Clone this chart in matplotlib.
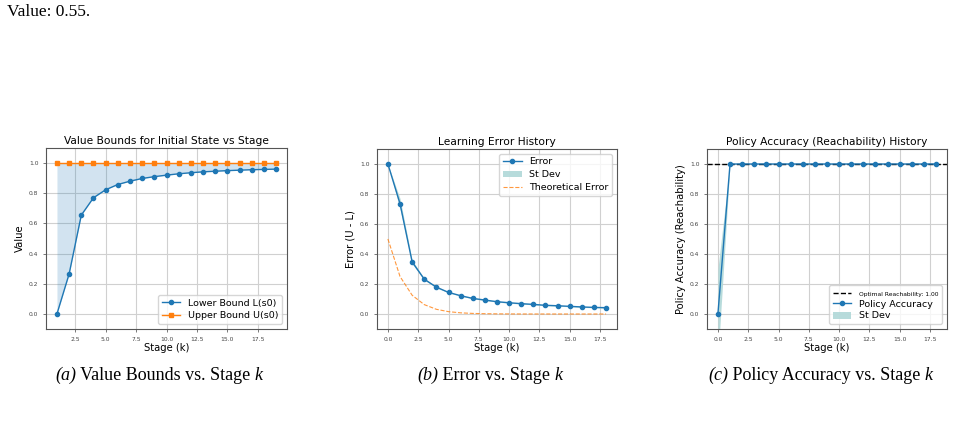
import matplotlib
matplotlib.use("Agg")
import matplotlib.pyplot as plt

# ---------------- data ----------------
stages_a = [1, 2, 3, 4, 5, 6, 7, 8, 9, 10, 11, 12, 13, 14, 15, 16, 17, 18, 19]
lower_bound = [0.0, 0.265, 0.655, 0.77, 0.823, 0.858, 0.88, 0.898, 0.91, 0.92,
               0.929, 0.936, 0.942, 0.946, 0.950, 0.953, 0.956, 0.958, 0.960]
upper_bound = [1.0] * 19

stages_b = [0, 1, 2, 3, 4, 5, 6, 7, 8, 9, 10, 11, 12, 13, 14, 15, 16, 17, 18]
error = [1.0, 0.735, 0.347, 0.232, 0.179, 0.144, 0.122, 0.104, 0.093, 0.082,
         0.075, 0.069, 0.064, 0.058, 0.055, 0.051, 0.047, 0.044, 0.042]
error_std = [0.0, 0.035, 0.012, 0.006, 0.004, 0.003, 0.003, 0.003, 0.003, 0.003,
             0.003, 0.003, 0.003, 0.003, 0.003, 0.003, 0.003, 0.003, 0.003]
theoretical_error = [0.5, 0.25, 0.125, 0.0625, 0.0313, 0.0156, 0.0078, 0.0039,
                     0.002, 0.001, 0.0005, 0.0002, 0.0001, 0.0001, 0.0, 0.0,
                     0.0, 0.0, 0.0]

stages_c = [0, 1, 2, 3, 4, 5, 6, 7, 8, 9, 10, 11, 12, 13, 14, 15, 16, 17, 18]
accuracy = [0.0] + [1.0] * 18
accuracy_std = [0.3] + [0.0] * 18
optimal_reach = 1.0

caption_tags = ["(a)", "(b)", "(c)"]
caption_texts = [" Value Bounds vs. Stage ", " Error vs. Stage ",
                 " Policy Accuracy vs. Stage "]

# ---------------- figure ----------------
fig = plt.figure(figsize=(9.8, 4.22), dpi=100)
W, H = 980, 422


def add_ax(x0, x1, y0, y1):
    return fig.add_axes([x0 / W, 1 - y1 / H, (x1 - x0) / W, (y1 - y0) / H])


ax1 = add_ax(46, 287, 148, 329)
ax2 = add_ax(377, 617, 149, 329)
ax3 = add_ax(707, 947, 149, 329)

title_fs = 7.7
label_fs = 7.2
tick_fs = 4.3
leg_fs = 6.8

for ax in (ax1, ax2, ax3):
    ax.grid(True, color='#d0d0d0', linewidth=0.8)
    ax.set_axisbelow(True)
    ax.tick_params(labelsize=tick_fs, length=2, width=0.5, colors='#444444')
    for s in ax.spines.values():
        s.set_color('#555555')
        s.set_linewidth(0.8)
    ax.set_ylim(-0.1, 1.1)
    ax.set_yticks([0.0, 0.2, 0.4, 0.6, 0.8, 1.0])

# Panel (a)
ax1.fill_between(stages_a, lower_bound, upper_bound, color='C0', alpha=0.2, linewidth=0)
ax1.plot(stages_a, lower_bound, '-o', color='C0', markersize=3, linewidth=1.0,
         label='Lower Bound L(s0)')
ax1.plot(stages_a, upper_bound, '-s', color='C1', markersize=3, linewidth=1.0,
         label='Upper Bound U(s0)')
ax1.set_title('Value Bounds for Initial State vs Stage', fontsize=title_fs, pad=3)
ax1.set_xlabel('Stage (k)', fontsize=label_fs, labelpad=1)
ax1.set_ylabel('Value', fontsize=label_fs, labelpad=3)
ax1.legend(loc='lower right', fontsize=leg_fs, handlelength=2.0, borderpad=0.4,
           labelspacing=0.4)

# Panel (b)
lo = [e - s for e, s in zip(error, error_std)]
hi = [e + s for e, s in zip(error, error_std)]
ax2.plot(stages_b, error, '-o', color='C0', markersize=3, linewidth=1.0, label='Error')
ax2.fill_between(stages_b, lo, hi, color='#b0d8d8', alpha=0.9, linewidth=0, label='St Dev')
ax2.plot(stages_b, theoretical_error, '--', color='C1', linewidth=0.8, alpha=0.8,
         label='Theoretical Error')
ax2.set_title('Learning Error History', fontsize=title_fs, pad=3)
ax2.set_xlabel('Stage (k)', fontsize=label_fs, labelpad=1)
ax2.set_ylabel('Error (U - L)', fontsize=label_fs, labelpad=3)
ax2.legend(loc='upper right', fontsize=leg_fs, handlelength=2.0, borderpad=0.4,
           labelspacing=0.4)

# Panel (c)
lo = [a - s for a, s in zip(accuracy, accuracy_std)]
hi = [a + s for a, s in zip(accuracy, accuracy_std)]
h_opt = ax3.axhline(optimal_reach, color='black', linestyle='--', linewidth=1.0,
                    label=f'Optimal Reachability: {optimal_reach:.2f}')
h_acc, = ax3.plot(stages_c, accuracy, '-o', color='C0', markersize=3, linewidth=1.0,
                  label='Policy Accuracy')
h_std = ax3.fill_between(stages_c, lo, hi, color='#b0d8d8', alpha=0.9, linewidth=0,
                         label='St Dev')
ax3.set_ylim(-0.1, 1.1)
ax3.set_title('Policy Accuracy (Reachability) History', fontsize=title_fs, pad=3)
ax3.set_xlabel('Stage (k)', fontsize=label_fs, labelpad=1)
ax3.set_ylabel('Policy Accuracy (Reachability)', fontsize=label_fs, labelpad=3)
leg = ax3.legend(handles=[h_opt, h_acc, h_std], loc='lower right', fontsize=leg_fs,
                 handlelength=2.0, borderpad=0.4, labelspacing=0.3)
leg.get_texts()[0].set_fontsize(4.3)

# captions: italic tag, upright text, italic k
cap_fs = 13
for x0, tag, body in zip([55, 417, 708], caption_tags, caption_texts):
    t1 = fig.text(x0 / W, 1 - 384 / H, tag, ha='left', va='bottom', fontsize=cap_fs,
                  family='Liberation Serif', style='italic')
    a2 = fig.add_artist(plt.Annotation(body, xy=(1, 0), xycoords=t1, ha='left',
                                       va='bottom', fontsize=cap_fs,
                                       family='Liberation Serif'))
    fig.add_artist(plt.Annotation('k', xy=(1, 0), xycoords=a2, ha='left', va='bottom',
                                  fontsize=cap_fs, family='Liberation Serif',
                                  style='italic'))

fig.text(7 / W, 1 - 12 / H, 'Value: 0.55.', ha='left', va='center', fontsize=12.5,
         family='Liberation Serif')

fig.savefig('out.png', dpi=100)
